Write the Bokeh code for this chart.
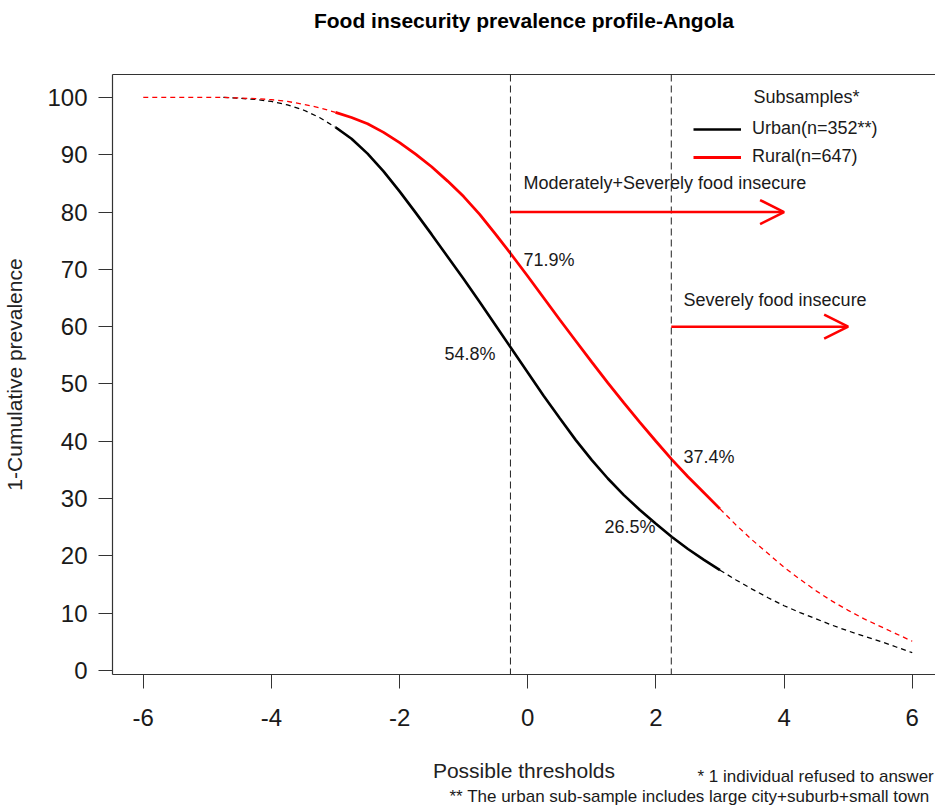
import numpy as np
from bokeh.plotting import figure
from bokeh.models import (Range1d, Label, Legend, LegendItem, Span, Arrow, OpenHead,
                          LinearAxis, FixedTicker, ColumnDataSource)
from bokeh.embed import file_html
from bokeh.resources import INLINE

# ---------------- data ----------------
theta = [-6.0, -5.75, -5.5, -5.25, -5.0, -4.75, -4.5, -4.25, -4.0, -3.75, -3.5, -3.25,
         -3.0, -2.75, -2.5, -2.25, -2.0, -1.75, -1.5, -1.25, -1.0, -0.75, -0.5, -0.25,
         0.0, 0.25, 0.5, 0.75, 1.0, 1.25, 1.5, 1.75, 2.0, 2.25, 2.5, 2.75,
         3.0, 3.25, 3.5, 3.75, 4.0, 4.25, 4.5, 4.75, 5.0, 5.25, 5.5, 5.75, 6.0]

urban = [np.nan, np.nan, np.nan, np.nan, np.nan, 100.0, 99.85, 99.65, 99.3, 98.7, 97.8, 96.5,
         94.8, 92.8, 90.2, 87.1, 83.6, 79.9, 76.1, 72.2, 68.3, 64.3, 60.2, 56.1,
         52.0, 47.9, 44.0, 40.2, 36.7, 33.5, 30.6, 28.0, 25.6, 23.3, 21.2, 19.3,
         17.5, 15.8, 14.2, 12.7, 11.3, 10.1, 9.0, 7.9, 6.9, 6.0, 5.1, 4.1, 3.1]

rural = [100.0, 100.0, 100.0, 100.0, 100.0, 100.0, 99.9, 99.8, 99.6, 99.3, 98.8, 98.2,
         97.4, 96.5, 95.4, 93.9, 92.1, 90.1, 87.9, 85.4, 82.7, 79.6, 76.1, 72.5,
         68.8, 65.0, 61.2, 57.5, 53.8, 50.2, 46.7, 43.3, 40.0, 36.8, 33.8, 31.0,
         28.2, 25.4, 22.8, 20.4, 18.0, 15.9, 13.9, 12.1, 10.5, 9.0, 7.7, 6.4, 5.1]

solid_range = (-3.0, 3.0)
thresholds = [-0.27, 2.24]
group_labels = ["Urban(n=352**)", "Rural(n=647)"]
x_ticks = [-6, -4, -2, 0, 2, 4, 6]
x_tick_labels = ["-6", "-4", "-2", "0", "2", "4", "6"]
y_ticks = [0, 10, 20, 30, 40, 50, 60, 70, 80, 90, 100]
pct_mod = ["71.9%", "54.8%"]
pct_sev = ["37.4%", "26.5%"]
notes = ["* 1 individual refused to answer",
         "** The urban sub-sample includes large city+suburb+small town"]

# ---------------- split solid / dashed parts ----------------
th = np.array(theta)
u = np.array(urban, dtype=float)
r = np.array(rural, dtype=float)
in_solid = (th >= solid_range[0]) & (th <= solid_range[1])
in_dash = (th <= solid_range[0]) | (th >= solid_range[1])

src = ColumnDataSource(dict(
    x=th,
    u_solid=np.where(in_solid, u, np.nan),
    u_dash=np.where(in_dash, u, np.nan),
    r_solid=np.where(in_solid, r, np.nan),
    r_dash=np.where(in_dash, r, np.nan),
))

FONT = "Liberation Sans"
TXT = "#1a1a1a"

p = figure(width=935, height=806, output_backend="svg", toolbar_location=None,
           x_range=Range1d(-6.48, 6.363), y_range=Range1d(-0.7, 104.0),
           min_border_left=112, min_border_right=0, min_border_top=74, min_border_bottom=132)

p.outline_line_color = None
p.xgrid.visible = False
p.ygrid.visible = False
p.background_fill_color = "white"
p.border_fill_color = "white"

p.title.text = "Food insecurity prevalence profile-Angola"
p.title.align = "center"
p.title.text_font = FONT
p.title.text_font_size = "21px"
p.title.text_font_style = "bold"
p.title.text_color = "black"
p.title.standoff = 10

for ax, ticks, standoff in ((p.xaxis[0], x_ticks, 20), (p.yaxis[0], y_ticks, 11)):
    ax.ticker = FixedTicker(ticks=ticks)
    ax.major_tick_out = 14
    ax.major_tick_in = 0
    ax.minor_tick_out = 0
    ax.minor_tick_in = 0
    ax.major_tick_line_color = "#333333"
    ax.axis_line_color = "#333333"
    ax.axis_line_width = 1.2
    ax.major_label_text_font = FONT
    ax.major_label_text_font_size = "24px"
    ax.major_label_text_color = TXT
    ax.major_label_standoff = standoff
    ax.axis_label_text_font = FONT
    ax.axis_label_text_font_size = "21px"
    ax.axis_label_text_font_style = "normal"
    ax.axis_label_text_color = "#222222"

p.xaxis[0].major_label_overrides = {t: s for t, s in zip(x_ticks, x_tick_labels)}
p.xaxis[0].axis_label = "Possible thresholds"
p.xaxis[0].axis_label_standoff = 30
p.yaxis[0].axis_label = "1-Cumulative prevalence"
p.yaxis[0].axis_label_standoff = 18

# top border of the box (no ticks)
top_axis = LinearAxis(ticker=FixedTicker(ticks=[]), major_label_text_font_size="0px",
                      major_tick_out=0, major_tick_in=0, minor_tick_out=0, minor_tick_in=0,
                      major_tick_line_color=None, major_label_standoff=0,
                      axis_line_color="#333333", axis_line_width=1.2)
p.add_layout(top_axis, "above")

# dashed extensions (drawn first)
p.line("x", "u_dash", source=src, line_color="black", line_width=1.3, line_dash="5 4")
p.line("x", "r_dash", source=src, line_color="red", line_width=1.3, line_dash="5 4")
# solid parts
u_line = p.line("x", "u_solid", source=src, line_color="black", line_width=2.6)
r_line = p.line("x", "r_solid", source=src, line_color="red", line_width=2.8)

# thresholds
for t in thresholds:
    p.add_layout(Span(location=t, dimension="height", line_color="#222222",
                      line_width=1, line_dash="7 4"))

# arrows
p.add_layout(Arrow(x_start=thresholds[0], y_start=80, x_end=4, y_end=80,
                   line_color="red", line_width=2.5,
                   end=OpenHead(size=24, line_color="red", line_width=2.5)))
p.add_layout(Arrow(x_start=thresholds[1], y_start=60, x_end=5, y_end=60,
                   line_color="red", line_width=2.5,
                   end=OpenHead(size=24, line_color="red", line_width=2.5)))

def lab(x, y, text, size="18px", align="left", baseline="middle", color=TXT, place="center"):
    p.add_layout(Label(x=x, y=y, text=text, text_font=FONT, text_font_size=size,
                       text_align=align, text_baseline=baseline, text_color=color), place)

lab(-0.066, 85.0, "Moderately+Severely food insecure")
lab(2.431, 64.7, "Severely food insecure")
lab(-0.066, 71.7, pct_mod[0])
lab(-0.503, 55.3, pct_mod[1], align="right")
lab(2.431, 37.3, pct_sev[0])
lab(1.994, 25.0, pct_sev[1], align="right")

# legend
lab(3.523, 100.0, "Subsamples*")
legend = Legend(items=[LegendItem(label=group_labels[0], renderers=[u_line]),
                       LegendItem(label=group_labels[1], renderers=[r_line])],
                location=(581, 507), orientation="vertical",
                border_line_color=None, background_fill_alpha=0,
                padding=0, margin=0, spacing=7,
                glyph_width=48, glyph_height=20, label_height=20, label_standoff=11,
                label_text_font=FONT, label_text_font_size="18px", label_text_color=TXT)
p.add_layout(legend, "center")

# footnotes: data-positioned labels kept in a side panel so they are not clipped
lab(2.649, -18.5, notes[0], size="17px", place="above")
lab(-1.221, -22.0, notes[1], size="17px", place="above")

open("out.html", "w").write(file_html(p, INLINE))
